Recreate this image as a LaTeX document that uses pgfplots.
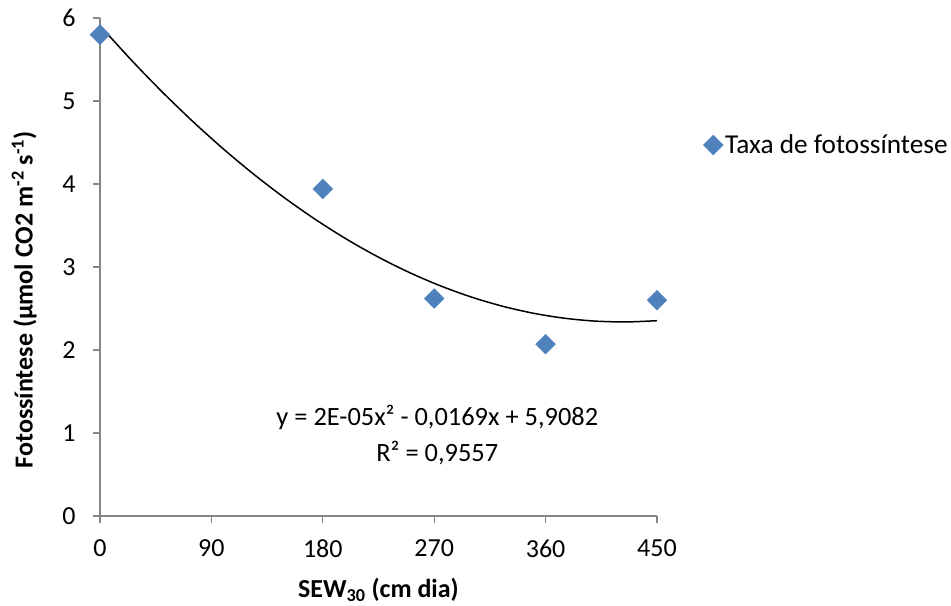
\documentclass[border=0pt]{standalone}
\usepackage{pgfplots}
\pgfplotsset{compat=1.18}
\usepackage{fontspec}
\setmainfont{Carlito}
\definecolor{excelblue}{HTML}{4F81BD}
\definecolor{axgray}{HTML}{868686}
\begin{document}
\begin{tikzpicture}[x=1bp,y=1bp]
\path[use as bounding box] (-100bp,-90bp) rectangle (851bp,516bp);
\begin{axis}[
  at={(0,0)}, anchor=south west,
  scale only axis, width=557bp, height=498bp,
  xmin=0, xmax=450, ymin=0, ymax=6,
  xtick={0,90,180,270,360,450},
  ytick={0,1,2,3,4,5,6},
  axis x line*=bottom, axis y line*=left,
  axis line style={axgray, line width=1.2bp, -},
  tick style={axgray, line width=1.2bp},
  tick align=outside, major tick length=7bp,
  /pgf/number format/assume math mode=true,
  ticklabel style={font=\fontsize{26bp}{30bp}\selectfont, text=black},
  xticklabel style={yshift=-13bp},
  yticklabel style={xshift=-14bp},
  xlabel={\textbf{SEW\textsubscript{30} (cm dia)}},
  ylabel={\textbf{Fotossíntese (µmol CO2 m\textsuperscript{-2} s\textsuperscript{-1})}},
  label style={font=\fontsize{26bp}{30bp}\selectfont},
  xlabel style={at={(axis description cs:0.5,-0.1486)}, anchor=center},
  ylabel style={at={(axis description cs:-0.136,0.434)}, anchor=center},
  clip=false,
  legend style={at={(rel axis cs:1.083,0.745)}, anchor=west, draw=none, fill=none,
    font=\fontsize{27.3bp}{31bp}\selectfont, inner sep=0pt},
  legend cell align=left,
]
\addplot[only marks, mark=square*, mark size=7bp, mark options={rotate=45, fill=excelblue, draw=excelblue}]
  coordinates {(0,5.80) (180,3.94) (270,2.62) (360,2.07) (450,2.60)};
\addlegendentry{Taxa de fotossíntese}
\addplot[black, line width=1.5bp, smooth, forget plot] coordinates {
(0,5.9082) (25,5.4982) (50,5.1132) (75,4.7532) (100,4.4182) (125,4.1082)
(150,3.8232) (175,3.5632) (200,3.3282) (225,3.1182) (250,2.9332) (275,2.7732)
(300,2.6382) (325,2.5282) (350,2.4432) (375,2.3832) (400,2.3482) (425,2.3382) (450,2.3532)};
\node[align=center, font=\fontsize{26.4bp}{36bp}\selectfont] at (axis cs:272.5,0.97)
  {y = 2E-05x² - 0,0169x + 5,9082\\R² = 0,9557};
\end{axis}
\end{tikzpicture}
\end{document}
